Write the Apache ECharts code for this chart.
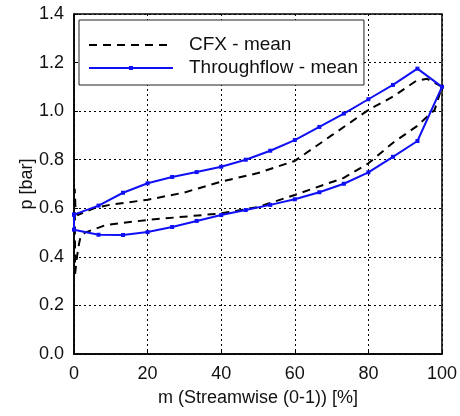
<!DOCTYPE html>
<html>
<head>
<meta charset="utf-8">
<script src="https://cdn.jsdelivr.net/npm/echarts@6/dist/echarts.min.js"></script>
<style>html,body{margin:0;padding:0;background:#fff}#c{width:460px;height:416px}</style>
</head>
<body>
<div id="c"></div>
<script>
// ---- data ----
var mPct = [0, 6.67, 13.33, 20, 26.67, 33.33, 40, 46.67, 53.33, 60, 66.67, 73.33, 80, 86.67, 93.33, 100];
var throughUpper = [0.574, 0.611, 0.664, 0.703, 0.729, 0.749, 0.771, 0.800, 0.837, 0.881, 0.935, 0.990, 1.049, 1.108, 1.175, 1.100];
var throughLower = [0.512, 0.491, 0.490, 0.502, 0.523, 0.548, 0.572, 0.593, 0.614, 0.637, 0.666, 0.701, 0.748, 0.812, 0.877, 1.100];

var cfxUpperM = [0.2, 0.4, 1, 3, 5.4, 10, 20, 30, 40, 50, 60, 70, 80, 86.7, 93, 96, 100];
var cfxUpperP = [0.68, 0.60, 0.572, 0.585, 0.60, 0.615, 0.635, 0.665, 0.71, 0.745, 0.795, 0.90, 1.005, 1.06, 1.125, 1.133, 1.10];
var cfxLowerM = [0.3, 0.8, 1.4, 1.8, 3, 8.6, 20, 40, 50, 60, 73.3, 80, 86.7, 93, 98, 100];
var cfxLowerP = [0.33, 0.40, 0.457, 0.483, 0.50, 0.531, 0.552, 0.579, 0.605, 0.655, 0.725, 0.785, 0.87, 0.936, 1.005, 1.10];

var xTicks = [0, 20, 40, 60, 80, 100];
var yTicks = [0.0, 0.2, 0.4, 0.6, 0.8, 1.0, 1.2, 1.4];

// ---- build loops ----
var tfData = [];
for (var i = 0; i < mPct.length; i++) tfData.push([mPct[i], throughUpper[i]]);
for (var j = mPct.length - 2; j >= 0; j--) tfData.push([mPct[j], throughLower[j]]);
tfData.push([mPct[0], throughUpper[0]]);

var cfxData = [];
for (var a = 0; a < cfxLowerM.length; a++) cfxData.push([cfxLowerM[a], cfxLowerP[a]]);
for (var b = cfxUpperM.length - 2; b >= 0; b--) cfxData.push([cfxUpperM[b], cfxUpperP[b]]);
cfxData.push([cfxLowerM[0], cfxLowerP[0]]);

var FONT = 'Liberation Sans';
var BLUE = '#1010f5';
var chart = echarts.init(document.getElementById('c'), null, {renderer: 'canvas'});
chart.setOption({
  animation: false,
  backgroundColor: '#fff',
  grid: {left: 74, right: 16, top: 14, bottom: 62, show: true, borderColor: '#000', borderWidth: 1.5, backgroundColor: 'transparent'},
  legend: {
    orient: 'vertical', left: 79, top: 20,
    padding: [14, 6, 6, 9],
    borderColor: '#222', borderWidth: 1, backgroundColor: '#fff',
    itemWidth: 84, itemHeight: 5, itemGap: 1,
    textStyle: {fontFamily: FONT, fontSize: 19, color: '#111', padding: [0, 0, 0, 11], lineHeight: 22},
    data: [
      {name: 'CFX - mean', itemStyle: {opacity: 0}},
      {name: 'Throughflow - mean'}
    ]
  },
  xAxis: {
    type: 'value', min: 0, max: 100, interval: 20,
    name: 'm (Streamwise (0-1)) [%]', nameLocation: 'middle', nameGap: 35, nameMoveOverlap: false,
    nameTextStyle: {fontFamily: FONT, fontSize: 18, color: '#111'},
    axisLine: {show: true, onZero: false, lineStyle: {color: '#000', width: 1.5}},
    axisTick: {show: true, inside: true, length: 4, lineStyle: {color: '#000'}},
    axisLabel: {fontFamily: FONT, fontSize: 18, color: '#111', margin: 11,
      formatter: function (v) { return xTicks.indexOf(v) >= 0 ? String(v) : ''; }},
    splitLine: {show: true, lineStyle: {color: '#000', width: 1, type: [2, 3]}}
  },
  yAxis: {
    type: 'value', min: 0, max: 1.4, interval: 0.2,
    name: 'p [bar]', nameLocation: 'middle', nameGap: 38, nameMoveOverlap: false,
    nameTextStyle: {fontFamily: FONT, fontSize: 18, color: '#111'},
    axisLine: {show: true, onZero: false, lineStyle: {color: '#000', width: 1.5}},
    axisTick: {show: true, inside: true, length: 4, lineStyle: {color: '#000'}},
    axisLabel: {fontFamily: FONT, fontSize: 18, color: '#111', margin: 10,
      formatter: function (v) { return v.toFixed(1); }},
    splitLine: {show: true, lineStyle: {color: '#000', width: 1, type: [2, 3]}}
  },
  series: [
    {
      name: 'CFX - mean', type: 'line', data: cfxData, showSymbol: false, symbol: 'none',
      lineStyle: {color: '#000', width: 2, type: [8, 6]}, itemStyle: {color: '#000'}, z: 3
    },
    {
      name: 'Throughflow - mean', type: 'line', data: tfData, symbol: 'rect', symbolSize: 4, showSymbol: true,
      lineStyle: {color: BLUE, width: 2}, itemStyle: {color: BLUE}, z: 4
    }
  ]
});
</script>
</body>
</html>
